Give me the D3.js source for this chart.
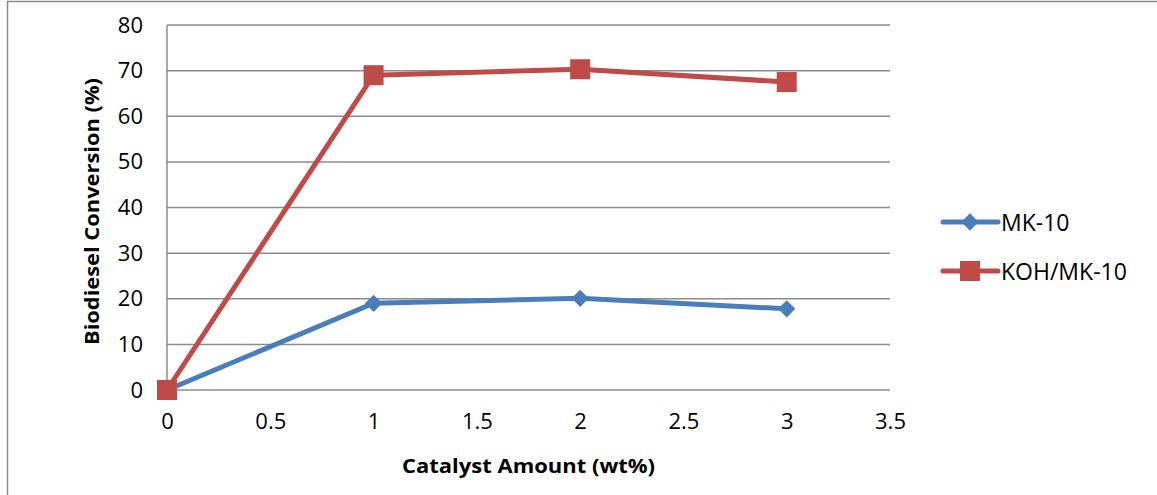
<!DOCTYPE html>
<html>
<head>
<meta charset="utf-8">
<script src="https://cdn.jsdelivr.net/npm/d3@7"></script>
<style>
  html, body { margin: 0; padding: 0; background: #fff; }
  svg { display: block; }
  text { font-family: "Open Sans", "Liberation Sans", sans-serif; fill: #000; }
</style>
</head>
<body>
<svg id="chart" width="1157" height="495"></svg>
<script>
// Catalyst loading (wt%) and biodiesel conversion (%) for each catalyst
const catalystAmount = [0, 1, 2, 3];
const mk10 = [0, 19.0, 20.1, 17.8];
const kohMk10 = [0, 69.0, 70.3, 67.5];
const xTicks = [0, 0.5, 1, 1.5, 2, 2.5, 3, 3.5];
const yTicks = [0, 10, 20, 30, 40, 50, 60, 70, 80];
const seriesNames = ["MK-10", "KOH/MK-10"];

const svg = d3.select("#chart");

// outer chart frame
svg.append("rect")
  .attr("x", 7.5).attr("y", 1.5)
  .attr("width", 1160).attr("height", 500)
  .attr("fill", "none").attr("stroke", "#8c8c8c").attr("stroke-width", 1.5);

const plot = { left: 167, right: 890, top: 25, bottom: 390 };

const x = d3.scaleLinear().domain([0, 3.5]).range([plot.left, plot.right]);
const y = d3.scaleLinear().domain([0, 80]).range([plot.bottom, plot.top]);

// horizontal gridlines
svg.append("g")
  .selectAll("line")
  .data(yTicks)
  .join("line")
  .attr("x1", plot.left).attr("x2", plot.right)
  .attr("y1", d => y(d)).attr("y2", d => y(d))
  .attr("stroke", "#8c8c8c").attr("stroke-width", 1.5);

// y axis line
svg.append("line")
  .attr("x1", plot.left).attr("x2", plot.left)
  .attr("y1", plot.top).attr("y2", plot.bottom)
  .attr("stroke", "#8c8c8c").attr("stroke-width", 1.5);

// y tick labels
const yAxis = d3.axisLeft(y).tickValues(yTicks).tickSize(0).tickPadding(24);
const gy = svg.append("g").attr("transform", `translate(${plot.left},0)`).call(yAxis);
gy.select(".domain").remove();
gy.selectAll("text")
  .attr("font-size", 22)
  .attr("font-family", '"Open Sans", sans-serif')
  .attr("fill", "#000");

// x tick labels
const xAxis = d3.axisBottom(x).tickValues(xTicks).tickSize(0).tickPadding(23)
  .tickFormat(d => String(d));
const gx = svg.append("g").attr("transform", `translate(0,${plot.bottom})`).call(xAxis);
gx.select(".domain").remove();
gx.selectAll("text")
  .attr("font-size", 22)
  .attr("font-family", '"Open Sans", sans-serif')
  .attr("fill", "#000");

// axis titles
svg.append("text")
  .attr("x", x(1.75)).attr("y", 473)
  .attr("text-anchor", "middle")
  .attr("font-weight", "bold").attr("font-size", 19)
  .attr("textLength", 253).attr("lengthAdjust", "spacingAndGlyphs")
  .text("Catalyst Amount (wt%)");

svg.append("text")
  .attr("transform", `translate(99,${(78 + 345) / 2}) rotate(-90)`)
  .attr("text-anchor", "middle")
  .attr("font-weight", "bold").attr("font-size", 19)
  .attr("textLength", 267).attr("lengthAdjust", "spacingAndGlyphs")
  .text("Biodiesel Conversion (%)");

const line = d3.line()
  .x((d, i) => x(catalystAmount[i]))
  .y(d => y(d));

const blue = "#4a7ebb";
const red = "#be4b48";

// MK-10 series
svg.append("path")
  .datum(mk10)
  .attr("d", line)
  .attr("fill", "none").attr("stroke", blue).attr("stroke-width", 5)
  .attr("stroke-linejoin", "round");

svg.append("g")
  .selectAll("path")
  .data(mk10)
  .join("path")
  .attr("d", d3.symbol(d3.symbolSquare, 150))
  .attr("transform", (d, i) => `translate(${x(catalystAmount[i])},${y(d)}) rotate(45)`)
  .attr("fill", blue);

// KOH/MK-10 series
svg.append("path")
  .datum(kohMk10)
  .attr("d", line)
  .attr("fill", "none").attr("stroke", red).attr("stroke-width", 5)
  .attr("stroke-linejoin", "round");

svg.append("g")
  .selectAll("rect")
  .data(kohMk10)
  .join("rect")
  .attr("x", (d, i) => x(catalystAmount[i]) - 10)
  .attr("y", d => y(d) - 10)
  .attr("width", 20).attr("height", 20)
  .attr("fill", red);

// legend
const legend = svg.append("g");
const legendY = [222, 271];
const colors = [blue, red];
seriesNames.forEach((name, i) => {
  const g = legend.append("g").attr("transform", `translate(0,${legendY[i]})`);
  g.append("line")
    .attr("x1", 943).attr("x2", 998).attr("y1", 0).attr("y2", 0)
    .attr("stroke", colors[i]).attr("stroke-width", 5).attr("stroke-linecap", "round");
  if (i === 0) {
    g.append("path")
      .attr("d", d3.symbol(d3.symbolSquare, 150))
      .attr("transform", "translate(970,0) rotate(45)")
      .attr("fill", colors[i]);
  } else {
    g.append("rect")
      .attr("x", 960).attr("y", -10).attr("width", 20).attr("height", 20)
      .attr("fill", colors[i]);
  }
  g.append("text")
    .attr("x", 1001).attr("y", 9)
    .attr("font-size", 23)
    .text(name);
});
</script>
</body>
</html>
